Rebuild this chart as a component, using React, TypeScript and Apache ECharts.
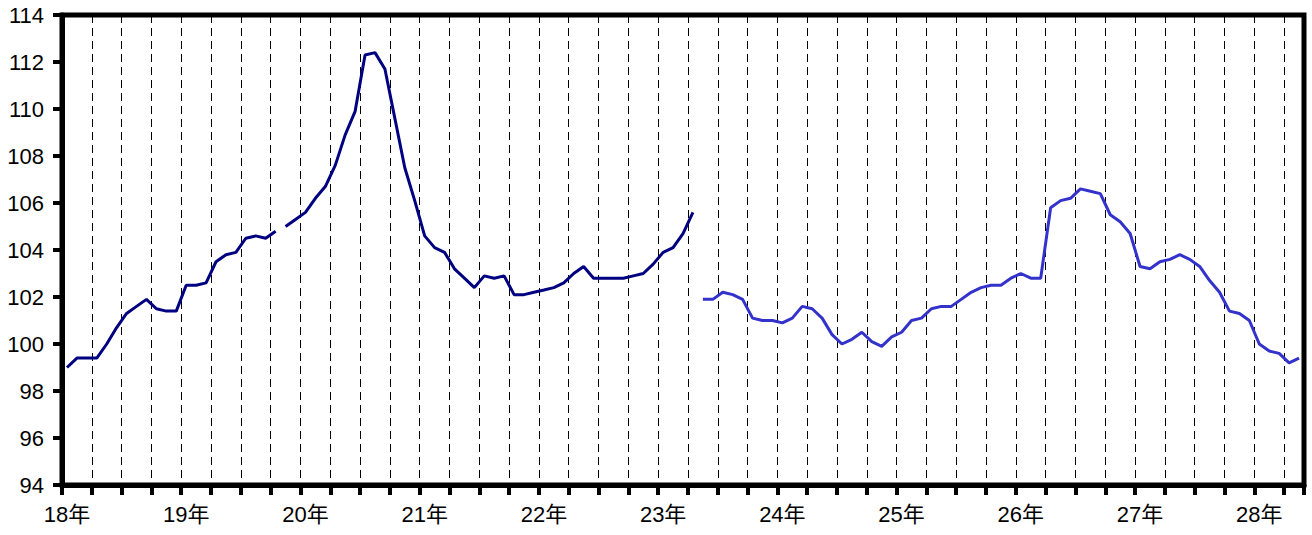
import React, { useEffect, useRef } from "react";
import * as echarts from "echarts";

// Months from 18年1月 to 28年5月 (125 months)
const FIRST_YEAR = 18;
const MONTH_COUNT = 125;
const categories: string[] = [];
for (let i = 0; i < MONTH_COUNT; i++) {
  const y = FIRST_YEAR + Math.floor(i / 12);
  const m = (i % 12) + 1;
  categories.push(`${y}年${m}月`);
}

// Old series, part A (index 0..21)
const oldStartA = 0;
const oldValuesA = [
  99.0, 99.4, 99.4, 99.4, 100.0, 100.7, 101.3, 101.6, 101.9, 101.5, 101.4, 101.4,
  102.5, 102.5, 102.6, 103.5, 103.8, 103.9, 104.5, 104.6, 104.5, 104.8,
];

// Old series, part B (index 22..63)
const oldStartB = 22;
const oldValuesB = [
  105.0, 105.3, 105.6, 106.2, 106.7, 107.6, 108.9, 109.9, 112.3, 112.4, 111.7, 109.6,
  107.5, 106.1, 104.6, 104.1, 103.9, 103.2, 102.8, 102.4, 102.9, 102.8, 102.9, 102.1,
  102.1, 102.2, 102.3, 102.4, 102.6, 103.0, 103.3, 102.8, 102.8, 102.8, 102.8, 102.9,
  103.0, 103.4, 103.9, 104.1, 104.7, 105.6,
];

// New series (index 64..124)
const newStart = 64;
const newValues = [
  101.9, 101.9, 102.2, 102.1, 101.9, 101.1, 101.0, 101.0, 100.9, 101.1, 101.6, 101.5,
  101.1, 100.4, 100.0, 100.2, 100.5, 100.1, 99.9, 100.3, 100.5, 101.0, 101.1, 101.5,
  101.6, 101.6, 101.9, 102.2, 102.4, 102.5, 102.5, 102.8, 103.0, 102.8, 102.8, 105.8,
  106.1, 106.2, 106.6, 106.5, 106.4, 105.5, 105.2, 104.7, 103.3, 103.2, 103.5, 103.6,
  103.8, 103.6, 103.3, 102.7, 102.2, 101.4, 101.3, 101.0, 100.0, 99.7, 99.6, 99.2,
  99.4,
];

const yMin = 94;
const yMax = 114;
const yStep = 2;

function pad(start: number, values: number[]): (number | null)[] {
  const out: (number | null)[] = new Array(MONTH_COUNT).fill(null);
  values.forEach((v, i) => {
    out[start + i] = v;
  });
  return out;
}

const FONT = "'Liberation Sans', 'Noto Sans CJK JP', sans-serif";

export default function App() {
  const ref = useRef<HTMLDivElement>(null);

  useEffect(() => {
    if (!ref.current) return;
    const chart = echarts.init(ref.current, undefined, { renderer: "svg" });
    const lineBase = {
      type: "line" as const,
      showSymbol: false,
      symbol: "none",
      connectNulls: false,
    };
    chart.setOption({
      animation: false,
      backgroundColor: "#ffffff",
      grid: {
        left: 62,
        right: 8,
        top: 15,
        bottom: 50,
        show: true,
        borderColor: "#000",
        borderWidth: 5,
      },
      xAxis: {
        type: "category",
        data: categories,
        boundaryGap: true,
        axisLine: { show: true, lineStyle: { color: "#000", width: 5 } },
        axisTick: {
          show: true,
          interval: 2,
          length: 10,
          lineStyle: { color: "#000", width: 4 },
        },
        axisLabel: {
          interval: 11,
          margin: 18,
          color: "#000",
          fontSize: 22,
          fontFamily: FONT,
          formatter: (v: string) => v.split("年")[0] + "年",
        },
        splitLine: {
          show: true,
          interval: 2,
          lineStyle: { color: "#000", width: 1, type: [8, 5] },
        },
      },
      yAxis: {
        type: "value",
        min: yMin,
        max: yMax,
        interval: yStep,
        axisLine: { show: true, lineStyle: { color: "#000", width: 5 } },
        axisTick: {
          show: true,
          length: 9,
          lineStyle: { color: "#000", width: 4 },
        },
        axisLabel: {
          margin: 18,
          color: "#000",
          fontSize: 22,
          fontFamily: FONT,
        },
        splitLine: { show: false },
      },
      series: [
        {
          ...lineBase,
          name: "old-a",
          data: pad(oldStartA, oldValuesA),
          lineStyle: { color: "#000080", width: 3 },
          itemStyle: { color: "#000080" },
        },
        {
          ...lineBase,
          name: "old-b",
          data: pad(oldStartB, oldValuesB),
          lineStyle: { color: "#000080", width: 3 },
          itemStyle: { color: "#000080" },
        },
        {
          ...lineBase,
          name: "new",
          data: pad(newStart, newValues),
          lineStyle: { color: "#3333CC", width: 3 },
          itemStyle: { color: "#3333CC" },
        },
      ],
    });
    return () => chart.dispose();
  }, []);

  return (
    <div
      ref={ref}
      style={{ position: "fixed", left: 0, top: 0, width: 1312, height: 535, background: "#fff" }}
    />
  );
}
